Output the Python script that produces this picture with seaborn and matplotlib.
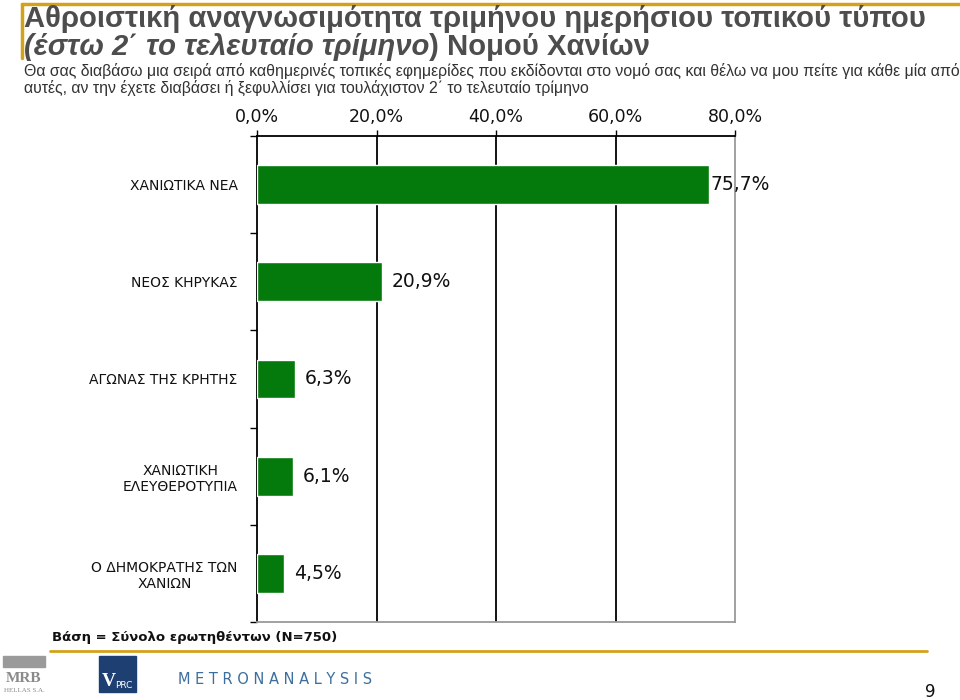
import matplotlib
matplotlib.use("Agg")
import matplotlib.pyplot as plt
import seaborn as sns
import pandas as pd
import numpy as np
from matplotlib.patches import Rectangle
from matplotlib.lines import Line2D

categories = ["ΧΑΝΙΩΤΙΚΑ ΝΕΑ", "ΝΕΟΣ ΚΗΡΥΚΑΣ", "ΑΓΩΝΑΣ ΤΗΣ ΚΡΗΤΗΣ",
              "ΧΑΝΙΩΤΙΚΗ\nΕΛΕΥΘΕΡΟΤΥΠΙΑ", "Ο ΔΗΜΟΚΡΑΤΗΣ ΤΩΝ\nΧΑΝΙΩΝ"]
values = [75.7, 20.9, 6.3, 6.1, 4.5]
xticks = [0, 20, 40, 60, 80]
xticklabels = ["0,0%", "20,0%", "40,0%", "60,0%", "80,0%"]

sns.set_theme(style="white")
plt.rcParams['font.family'] = ['DejaVu Sans']

fig = plt.figure(figsize=(9.6, 7.0), dpi=100)
ax = fig.add_axes([257/960, 1-622/700, (735-257)/960, (622-136)/700])

df = pd.DataFrame({"cat": categories, "val": values})
sns.barplot(data=df, y="cat", x="val", orient="h", color="#037A0B",
            saturation=1, width=0.4, ax=ax, zorder=3)

ax.set_xlim(0, 80)
ax.set_ylim(4.5, -0.5)
ax.set_xlabel("")
ax.set_ylabel("")
ax.xaxis.tick_top()
ax.set_xticks(xticks)
ax.set_xticklabels(xticklabels, fontsize=12.5, color="#111111")
ax.tick_params(axis="x", which="major", direction="out", length=4, width=1,
               color="black", pad=3, top=True, bottom=False)
for xv in xticks[1:-1]:
    ax.axvline(xv, color="black", lw=1.3, zorder=1)

ax.set_yticks(range(len(categories)))
ax.set_yticklabels(categories, fontsize=10, color="#111111", multialignment="center")
ax.tick_params(axis="y", which="major", length=0, pad=14)
ax.set_yticks(np.arange(-0.5, len(categories), 1.0), minor=True)
ax.tick_params(axis="y", which="minor", direction="out", length=5, width=1,
               color="black", left=True)

for side in ["top", "left"]:
    ax.spines[side].set_color("black")
    ax.spines[side].set_linewidth(1.3)
for side in ["right", "bottom"]:
    ax.spines[side].set_color("#9a9a9a")
    ax.spines[side].set_linewidth(1.3)
    ax.spines[side].set_visible(True)

labels = [f"{v:.1f}%".replace(".", ",") for v in values]
pads = [1, 7, 7, 7, 7]
for cont in ax.containers:
    for bar, lab, p in zip(cont, labels, pads):
        ax.annotate(lab, (bar.get_width(), bar.get_y() + bar.get_height()/2),
                    xytext=(p, 0), textcoords="offset points",
                    ha="left", va="center", fontsize=13.5, color="#111111",
                    zorder=5, annotation_clip=False)

gold = "#D4A21A"
# Header decoration
fig.add_artist(Line2D([22/960, 1.0], [1-4/700, 1-4/700], color=gold, lw=2.5))
fig.add_artist(Line2D([22/960, 22/960], [1-4/700, 1-58/700], color=gold, lw=2.5))

title_font = ['Liberation Sans', 'DejaVu Sans']
fig.text(24/960, 1-19/700, "Αθροιστική αναγνωσιμότητα τριμήνου ημερήσιου τοπικού τύπου",
         fontsize=21.1, color="#4d4d4d", family=title_font, va="center", ha="left",
         fontweight="bold")
t1 = fig.text(24/960, 1-47/700, "(έστω 2΄ το τελευταίο τρίμηνο",
              fontsize=21.1, color="#4d4d4d", family=title_font, va="center", ha="left",
              fontstyle="italic", fontweight="bold")
fig.canvas.draw()
bb = t1.get_window_extent()
fig.text(bb.x1/960, 1-47/700, ") Νομού Χανίων",
         fontsize=21.1, color="#4d4d4d", family=title_font, va="center", ha="left",
         fontweight="bold")
fig.text(24/960, 1-71/700,
         "Θα σας διαβάσω μια σειρά από καθημερινές τοπικές εφημερίδες που εκδίδονται στο νομό σας και θέλω να μου πείτε για κάθε μία από",
         fontsize=11.4, color="#333333", family=title_font, va="center", ha="left")
fig.text(24/960, 1-88/700,
         "αυτές, αν την έχετε διαβάσει ή ξεφυλλίσει για τουλάχιστον 2΄ το τελευταίο τρίμηνο",
         fontsize=11.4, color="#333333", family=title_font, va="center", ha="left")

# Footer
fig.text(52/960, 1-637/700, "Βάση = Σύνολο ερωτηθέντων (N=750)", fontsize=9.5,
         fontweight="bold", color="#111111", va="center", ha="left")
fig.add_artist(Line2D([50/960, 927/960], [1-651/700, 1-651/700], color=gold, lw=2))

# logos
fig.add_artist(Rectangle((3/960, 1-667/700), 42/960, 11/700, color="#9a9a9a"))
fig.text(24/960, 1-679/700, "MRB", fontsize=11, fontweight="bold", color="#8a8a8a",
         family=["Liberation Serif", "DejaVu Serif"], ha="center", va="center")
fig.text(24/960, 1-690/700, "HELLAS S.A.", fontsize=5, color="#8a8a8a",
         family=["Liberation Serif", "DejaVu Serif"], ha="center", va="center")
fig.add_artist(Rectangle((99/960, 1-692/700), 37/960, 36/700, color="#1E3F72"))
fig.text(102/960, 1-681/700, "V", fontsize=14, fontweight="bold", color="white",
         family=["Liberation Serif", "DejaVu Serif"], ha="left", va="center")
fig.text(115/960, 1-685/700, "PRC", fontsize=6.5, color="white", ha="left", va="center")
fig.text(178/960, 1-680/700, "M E T R O N A N A L Y S I S", fontsize=10.5,
         color="#3D6F9E", ha="left", va="center")
fig.text(930/960, 1-692/700, "9", fontsize=12, color="#111111", ha="center", va="center")

fig.savefig("out.png", dpi=100)
